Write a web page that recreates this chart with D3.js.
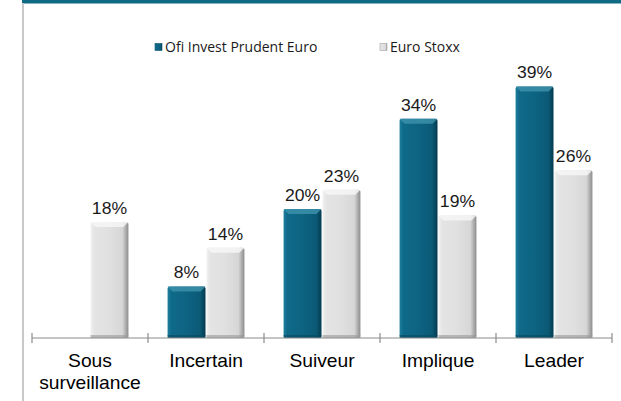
<!DOCTYPE html>
<html>
<head>
<meta charset="UTF-8">
<title>Profils</title>
<style>
body, html {
	padding: 0;
	margin: 0;
	background: #ffffff;
	overflow: hidden;
}
</style>
<script src="https://cdn.jsdelivr.net/npm/d3@7"></script>
</head>
<body>
<div id="chart"></div>
<script>
var categories = ["Sous\nsurveillance", "Incertain", "Suiveur", "Implique", "Leader"];
var seriesNames = ["Ofi Invest Prudent Euro", "Euro Stoxx"];
var ofiValues = [null, 8, 20, 34, 39];
var stoxxValues = [18, 14, 23, 19, 26];

var width = 621;
var height = 401;
var baseY = 338;

var svg = d3.select("#chart").append("svg").attr("width", width).attr("height", height);

var defs = svg.append("defs");

function bevel(id, stops) {
	var g = defs.append("linearGradient").attr("id", id).attr("x1", "0").attr("x2", "1").attr("y1", "0").attr("y2", "0");
	stops.forEach(function(s) {
		g.append("stop").attr("offset", s[0]).attr("stop-color", s[1]);
	});
}
bevel("gOfi", [[0, "#1d7f9c"], [0.1, "#0f6a89"], [0.5, "#0d6382"], [0.86, "#0b5a76"], [1, "#053a4e"]]);
bevel("gStoxx", [[0, "#f2f2f2"], [0.1, "#e4e4e4"], [0.5, "#e0e0e0"], [0.84, "#d6d6d6"], [1, "#8c8c8c"]]);

// frame
svg.append("rect").attr("x", 22).attr("y", 0).attr("width", width - 22).attr("height", 3.5).attr("fill", "#0e6a85");
svg.append("rect").attr("x", 22).attr("y", 3).attr("width", 2).attr("height", height - 3).attr("fill", "#c8c8c8");

var x = d3.scaleBand().domain(categories).range([32, 612]).paddingInner(0).paddingOuter(0);
var x1 = d3.scaleBand().domain(seriesNames).range([0, x.bandwidth()]).paddingOuter(0.49).paddingInner(0);
var y = d3.scaleLinear().domain([0, 40]).range([baseY, 80]);

var rows = [];
categories.forEach(function(c, i) {
	rows.push({cat: c, s: seriesNames[0], v: ofiValues[i], fill: "url(#gOfi)", top: "#3f93ad", dark: "#064a61"});
	rows.push({cat: c, s: seriesNames[1], v: stoxxValues[i], fill: "url(#gStoxx)", top: "#f7f7f7", dark: "#9a9a9a"});
});
rows = rows.filter(function(d) {return d.v != null});

var bars = svg.append("g").selectAll("g").data(rows).enter().append("g")
	.attr("transform", function(d) {return "translate(" + (x(d.cat) + x1(d.s)) + ",0)"});

bars.append("rect")
	.attr("x", 0.5).attr("width", x1.bandwidth() - 1)
	.attr("y", function(d) {return y(d.v)})
	.attr("height", function(d) {return baseY - y(d.v)})
	.attr("rx", 2)
	.attr("fill", function(d) {return d.fill});

// top bevel
bars.append("path")
	.attr("d", function(d) {
		var t = y(d.v), w = x1.bandwidth() - 1;
		return "M0.5," + t + "L" + (w + 0.5) + "," + t + "L" + (w - 4.5) + "," + (t + 5) + "L5.5," + (t + 5) + "Z";
	})
	.attr("fill", function(d) {return d.top})
	.attr("opacity", 0.8);

// bottom shade
bars.append("rect")
	.attr("x", 0.5).attr("width", x1.bandwidth() - 1)
	.attr("y", baseY - 3).attr("height", 3)
	.attr("fill", function(d) {return d.dark})
	.attr("opacity", 0.6);

bars.append("text")
	.attr("transform", function(d) {return "translate(" + (x1.bandwidth() / 2) + "," + (y(d.v) - 8) + ") scale(1.1,1)"})
	.attr("text-anchor", "middle")
	.style("font-family", "'Liberation Sans', Arial, sans-serif")
	.style("font-size", "16px")
	.attr("fill", "#1a1a1a")
	.text(function(d) {return d.v + "%"});

// axis
var axis = svg.append("g");
axis.append("line").attr("x1", 32).attr("x2", 612).attr("y1", baseY).attr("y2", baseY).attr("stroke", "#8c8c8c").attr("stroke-width", 1.2);
var tickPos = categories.map(function(c) {return x(c)}).concat([x.range()[1]]);
axis.selectAll(".tk").data(tickPos).enter().append("line")
	.attr("x1", function(d) {return d}).attr("x2", function(d) {return d})
	.attr("y1", baseY - 5).attr("y2", baseY + 5)
	.attr("stroke", "#8c8c8c").attr("stroke-width", 1.2);

var labels = axis.selectAll(".lb").data(categories).enter().append("text")
	.attr("text-anchor", "middle")
	.attr("transform", function(d) {return "translate(" + (x(d) + x.bandwidth() / 2) + ",367) scale(1.1,1)"})
	.style("font-family", "'Liberation Sans', Arial, sans-serif")
	.style("font-size", "17.5px")
	.attr("fill", "#000000");
labels.selectAll("tspan").data(function(d) {return d.split("\n")}).enter().append("tspan")
	.attr("x", 0).attr("dy", function(d, i) {return i == 0 ? 0 : 22})
	.text(function(d) {return d});

// legend
var legendX = [155, 380];
var legend = svg.append("g").selectAll("g").data(seriesNames).enter().append("g")
	.attr("transform", function(d, i) {return "translate(" + legendX[i] + ",42)"});
legend.append("rect").attr("width", 7).attr("height", 7).attr("y", 1.5)
	.attr("fill", function(d, i) {return i == 0 ? "url(#gOfi)" : "url(#gStoxx)"})
	.attr("stroke", function(d, i) {return i == 0 ? "#0a5068" : "#a0a0a0"}).attr("stroke-width", 0.6);
legend.append("text").attr("x", 10).attr("y", 10)
	.style("font-family", "'Open Sans', sans-serif")
	.style("font-size", "14px")
	.attr("fill", "#1a1a1a")
	.text(function(d) {return d});
</script>
</body>
</html>
